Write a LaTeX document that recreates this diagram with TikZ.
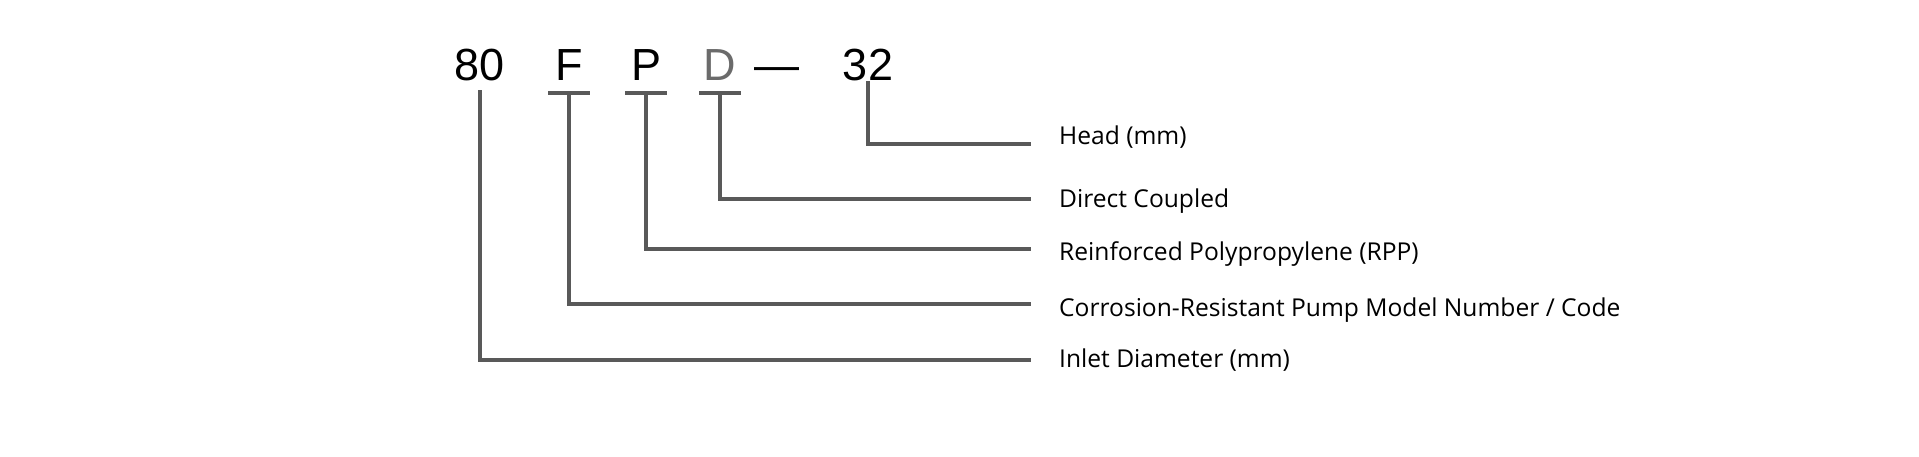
\documentclass[tikz,border=0pt]{standalone}
\usepackage{fontspec}
\setmainfont{Liberation Sans}
\newfontfamily\labelfont{Open Sans}
\usetikzlibrary{calc}
\tikzset{
	codeletter/.style={anchor=base, inner sep=0pt, font=\fontsize{45}{50}\selectfont},
	meaning/.style={anchor=base west, inner sep=0pt, font=\labelfont\fontsize{24.6}{29}\selectfont},
	leader/.style={line width=3.5pt, color=black!65},
}

\begin{document}
\begin{tikzpicture}[x=1pt, y=-1pt]
			%%%%% START %%%%%
			\useasboundingbox (0, 0) rectangle (1919, 456);
			
			\node[codeletter] (inlet) at (480, 80) {80};
			\node[codeletter] (pump) at (569, 80) {F};
			\node[codeletter] (material) at (646, 80) {P};
			\node[codeletter, color=black!58] (drive) at (720, 80) {D};
			\node[codeletter] (dash) at (777, 80) {—};
			\node[codeletter] (head) at (868, 80) {32};
			
			\node[meaning] (headtext) at (1059, 144) {Head (mm)};
			\node[meaning] (drivetext) at (1059, 207) {Direct Coupled};
			\node[meaning] (materialtext) at (1059, 260) {Reinforced Polypropylene (RPP)};
			\node[meaning] (pumptext) at (1059, 316) {Corrosion-Resistant Pump Model Number / Code};
			\node[meaning] (inlettext) at (1059, 367) {Inlet Diameter (mm)};
			
			\foreach \n in {pump, material, drive}
				\draw[leader] ($(\n.base)+(-21, 13)$) -- ($(\n.base)+(21, 13)$);
			
			\coordinate (headend) at (1031, 144);
			\coordinate (driveend) at (1031, 199);
			\coordinate (materialend) at (1031, 249);
			\coordinate (pumpend) at (1031, 304);
			\coordinate (inletend) at (1031, 360);
			
			\draw[leader] ($(head.base)+(0, 1)$) |- (headend);
			\draw[leader] ($(drive.base)+(0, 13)$) |- (driveend);
			\draw[leader] ($(material.base)+(0, 13)$) |- (materialend);
			\draw[leader] ($(pump.base)+(0, 13)$) |- (pumpend);
			\draw[leader] ($(inlet.base)+(0, 10)$) |- (inletend);
			
			%%%%% END %%%%%
		\end{tikzpicture}
\end{document}
